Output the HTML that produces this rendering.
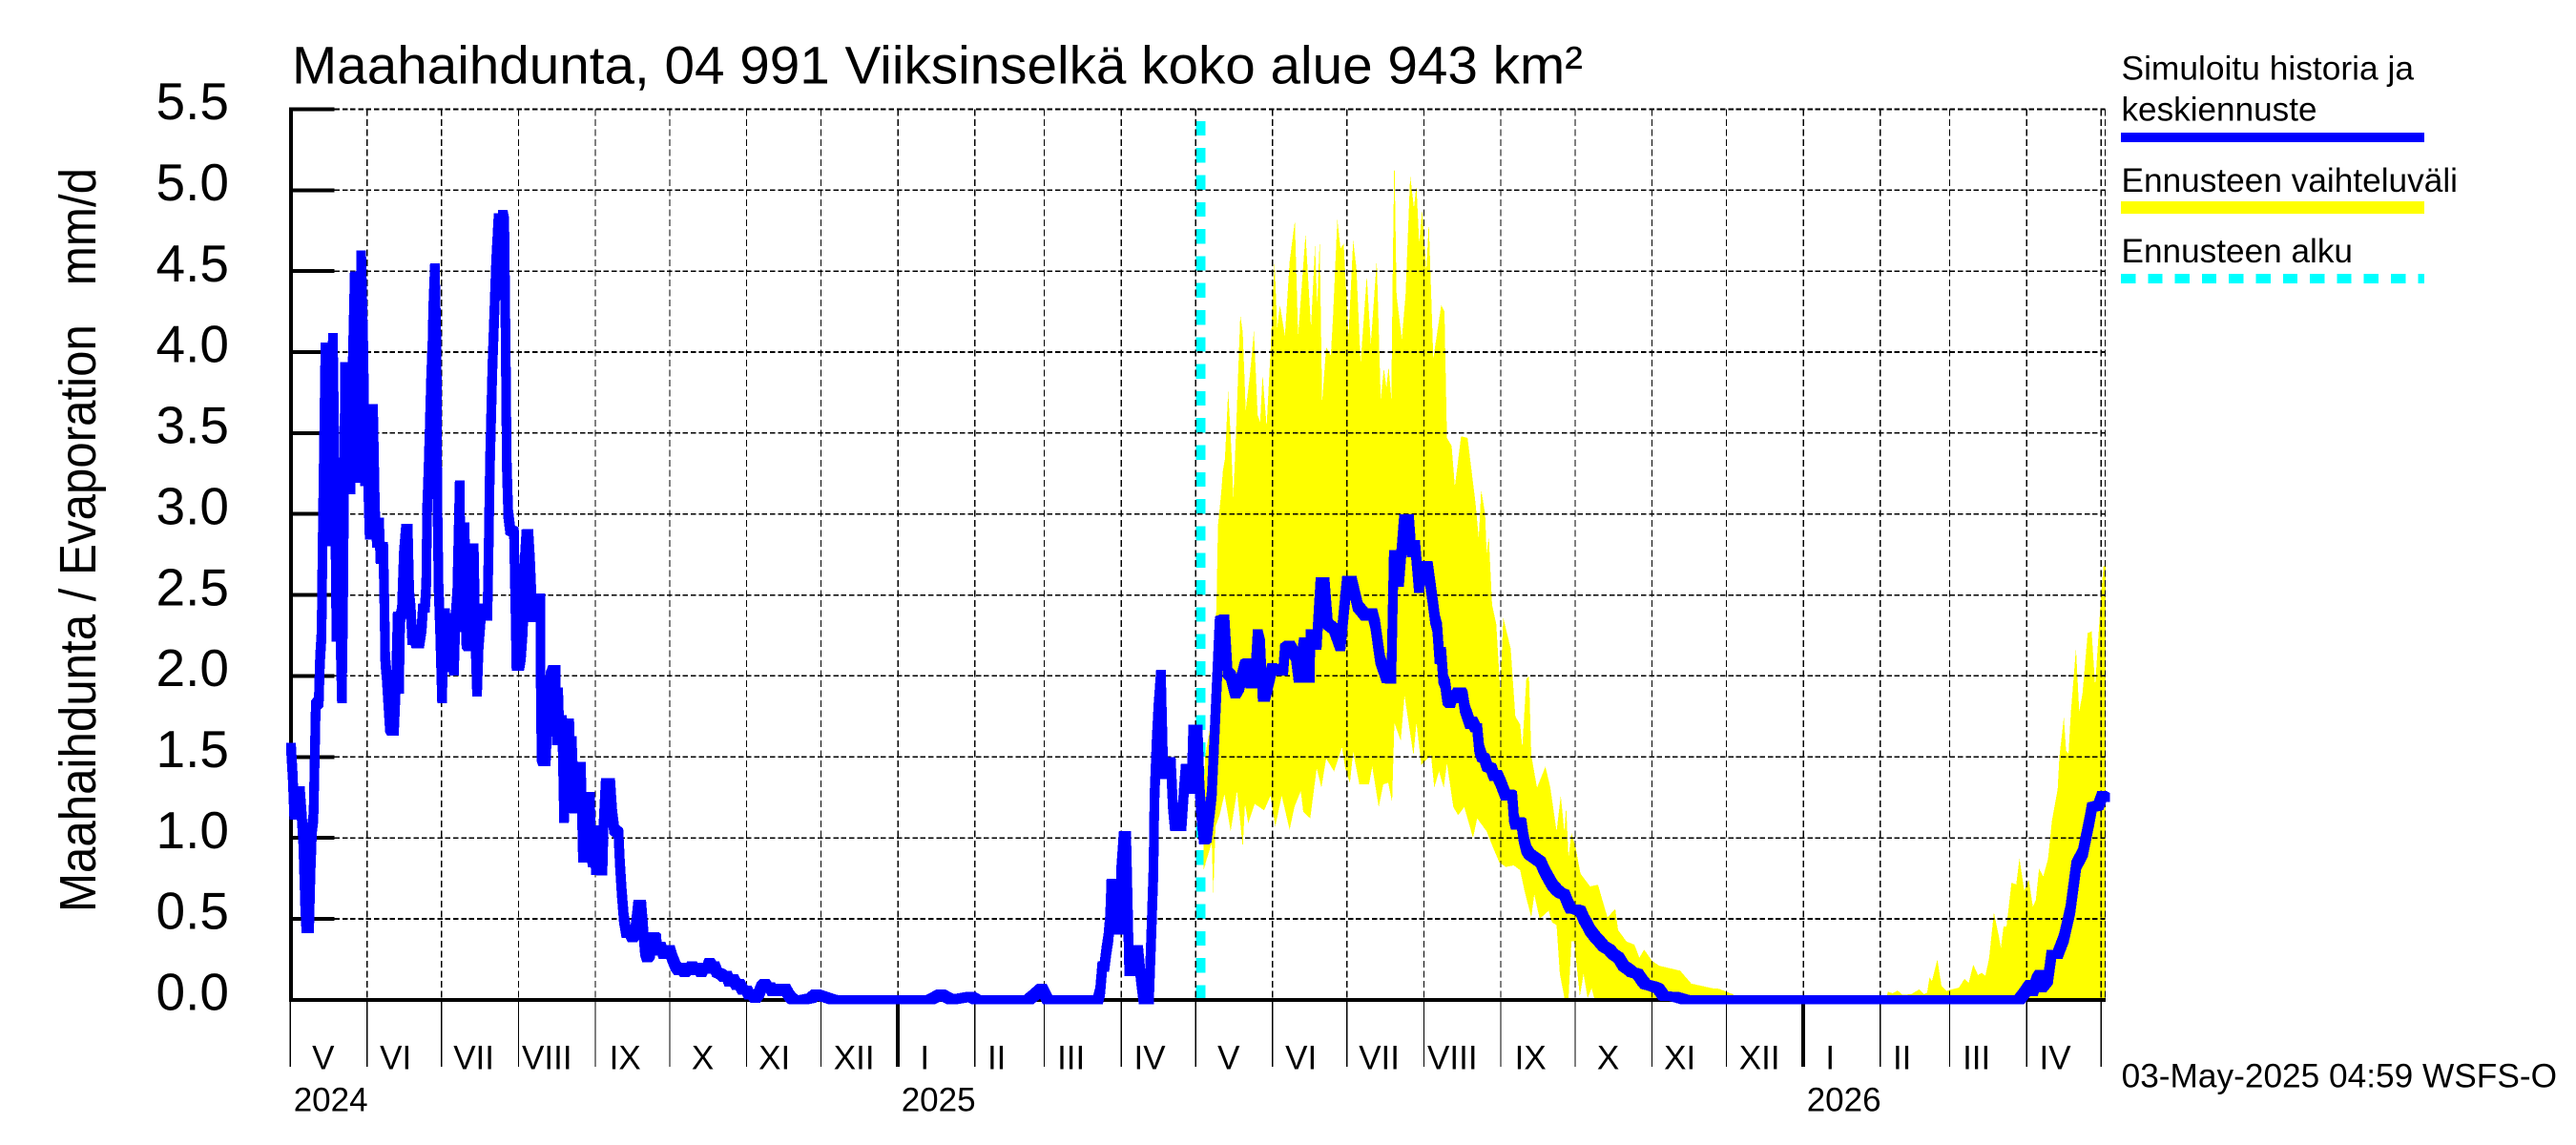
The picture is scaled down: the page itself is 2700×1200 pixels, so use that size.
<!DOCTYPE html>
<html lang="fi">
<head>
<meta charset="utf-8">
<title>Maahaihdunta, 04 991 Viiksinselkä koko alue 943 km²</title>
<style>
html,body{margin:0;padding:0;background:#fff;}
svg{display:block;}
text{font-family:"Liberation Sans",Arial,sans-serif;fill:#000;white-space:pre;}
</style>
</head>
<body>
<svg id="chart" xmlns="http://www.w3.org/2000/svg" width="2700" height="1200" viewBox="0 0 2700 1200">
  <rect x="0" y="0" width="2700" height="1200" fill="#ffffff"/>
  <g id="forecast-start-layer"></g>
  <g id="band-layer"></g>
  <g id="grid-layer"></g>
  <g id="axis-layer"></g>
  <g id="line-layer"></g>

  <text x="306" y="87.3" font-size="56" textLength="1353" lengthAdjust="spacingAndGlyphs">Maahaihdunta, 04 991 Viiksinselkä koko alue 943 km²</text>
  <text transform="translate(100 956) rotate(-90)" x="0" y="0" font-size="54" textLength="780" lengthAdjust="spacingAndGlyphs">Maahaihdunta / Evaporation   mm/d</text>

  <g>
    <text x="2223.5" y="83.4" font-size="35" textLength="306.5" lengthAdjust="spacingAndGlyphs">Simuloitu historia ja</text>
    <text x="2223.5" y="126.3" font-size="35" textLength="205" lengthAdjust="spacingAndGlyphs">keskiennuste</text>
    <rect x="2223" y="139" width="318" height="10" fill="#0000ff"/>
    <text x="2223.5" y="201" font-size="35" textLength="352.5" lengthAdjust="spacingAndGlyphs">Ennusteen vaihteluväli</text>
    <rect x="2223" y="211" width="318" height="13" fill="#ffff00"/>
    <text x="2223.5" y="274.8" font-size="35" textLength="242.5" lengthAdjust="spacingAndGlyphs">Ennusteen alku</text>
    <line x1="2223" y1="292" x2="2541" y2="292" stroke="#00ffff" stroke-width="10" stroke-dasharray="15.3 13" shape-rendering="crispEdges"/>
  </g>
  <text x="2223.6" y="1139.6" font-size="35" textLength="456.4" lengthAdjust="spacingAndGlyphs">03-May-2025 04:59 WSFS-O</text>
</svg>

<script>
// Values are [days since 1 May 2024, mm/d].
const meanHistory = [
[0.3,1.56],[1,1.38],[1.6,1.14],[2.4,1.2],[3.2,1.14],[3.9,1.29],[4.6,1.14],[5.2,1.0],[5.5,0.85],[6,0.6],
[6.5,0.44],[7,0.6],[7.6,0.44],[8.2,0.8],[8.8,1.06],[9.4,1.13],[9.9,1.5],[10.3,1.82],[11.5,1.84],[12,2.1],
[12.6,2.25],[13,2.75],[13.5,3.3],[14.2,4.03],[15,3.2],[15.9,2.83],[16.5,3.5],[17.2,4.09],[18,3.2],[18.6,2.24],
[19,2.6],[19.5,3.32],[20,2.4],[20.8,1.86],[21.3,2.4],[22.1,3.91],[23,3.4],[24.3,3.15],[25,3.8],[26,4.47],
[26.8,3.6],[27.3,3.22],[28,4.0],[28.6,4.6],[29.5,4.0],[30.2,3.2],[31,3.4],[32,2.87],[32.8,3.3],[33.4,3.65],
[34.2,3.0],[35,2.82],[35.8,2.95],[36.4,2.72],[37.5,2.8],[38,2.4],[38.3,2.1],[38.9,2.0],[39.5,1.85],[40.2,1.68],
[41,1.66],[41.8,1.66],[42.6,1.95],[43.3,2.37],[43.9,1.92],[44.3,2.35],[45,2.4],[45.8,2.75],[46.7,2.91],[47.4,2.91],
[48,2.5],[48.6,2.4],[49.2,2.22],[50,2.25],[50.8,2.2],[52,2.2],[53,2.3],[53.5,2.42],[54.3,2.42],[54.8,2.55],
[55.2,3.03],[55.7,3.24],[56.1,3.46],[56.8,3.84],[57.4,4.06],[57.6,4.25],[58.3,4.52],[59,4.0],[59.3,3.1],[59.8,2.55],
[60.4,2.3],[61.2,1.86],[61.8,2.2],[62.4,2.39],[63.2,2.1],[63.8,2.36],[64.6,2.05],[65.3,2.35],[66,2.03],[66.6,2.35],
[67.3,2.5],[68.3,3.18],[69,2.3],[69.6,2.7],[70.3,2.92],[71,2.2],[72,2.18],[72.7,2.78],[73.3,2.2],[74,2.79],
[74.7,2.2],[75.3,1.9],[76,2.2],[77,2.4],[77.9,2.42],[78.7,2.37],[79.5,2.37],[80,2.8],[80.5,3.3],[81.5,3.9],
[82.2,4.2],[83,4.55],[84,4.83],[84.8,4.35],[85.7,4.85],[86.3,4.8],[86.8,4.1],[87.3,3.3],[87.9,3.0],[88.7,2.9],
[90.2,2.89],[90.8,2.4],[91.2,2.06],[92.3,2.06],[93,2.12],[93.8,2.3],[94.5,2.7],[95.2,2.875],[96,2.88],[96.7,2.7],
[97.6,2.36],[98.8,2.36],[100,2.48],[100.8,2.48],[101,1.9],[101.3,1.5],[102,1.47],[103,1.47],[104,1.85],[105,2.0],
[106,2.04],[107,2.04],[107.4,1.6],[108,1.9],[108.6,1.6],[109.6,1.73],[110.4,1.12],[111,1.3],[111.6,1.7],[112.5,1.71],
[113,1.25],[113.5,1.6],[114.5,1.18],[115,1.3],[115.6,1.2],[116.3,1.44],[117.2,1.44],[118,0.875],[118.6,1.1],[119.2,0.875],
[119.9,1.25],[120.8,1.255],[121.4,0.9],[122,0.845],[122.6,1.05],[123.2,0.8],[124,1.0],[124.6,0.8],[125.9,0.795],[126.4,1.1],
[127.2,1.34],[129,1.34],[129.8,1.15],[130.6,1.05],[132.3,1.03],[132.9,0.85],[133.6,0.67],[134.5,0.5],[135.5,0.41],[136.5,0.43],
[138,0.385],[139,0.41],[139.8,0.52],[140.3,0.59],[141.5,0.59],[142.2,0.45],[143,0.3],[143.9,0.26],[145,0.28],[145.5,0.37],
[146.5,0.39],[147.5,0.38],[148,0.3],[149.3,0.33],[150.5,0.28],[152,0.3],[153,0.31],[154,0.26],[155.3,0.21],[156.7,0.18],
[157.8,0.2],[159,0.17],[160,0.19],[161,0.18],[162,0.21],[163.2,0.18],[164.3,0.2],[165.7,0.17],[166.8,0.2],[168,0.19],
[169,0.23],[170.2,0.2],[171,0.21],[172,0.17],[173.5,0.16],[175,0.14],[176,0.15],[177,0.11],[178.5,0.13],[180,0.09],
[181,0.1],[182.5,0.06],[184,0.06],[185,0.03],[186.5,0.03],[187.5,0.01],[189,0.04],[190,0.08],[191.3,0.1],[192.5,0.07],
[193.5,0.08],[194.5,0.05],[196,0.07],[198,0.05],[199.5,0.07],[201,0.03],[202,0.01],[203,0],[206.7,0],[210,0.01],
[212,0.035],[216,0.015],[219,0],[258,0],[262.3,0.034],[266.7,0],[274.4,0.02],[276.6,0],[297.6,0],[300,0.03],
[303,0.07],[305.3,0],[325.6,0],[326.5,0.05],[327.4,0.21],[328.2,0.2],[329,0.3],[329.8,0.38],[330.5,0.5],[331,0.72],
[332,0.72],[332.8,0.43],[333.5,0.7],[334.5,0.43],[335,0.8],[336,1.015],[337,1.015],[337.6,0.6],[338.2,0.175],[339,0.3],
[339.8,0.175],[340.5,0.3],[341.8,0.31],[342.8,0.15],[344,0],[346.2,0],[347.2,0.43],[348,0.8],[348.4,1.24],[349.3,1.6],
[350,1.8],[351,2.01],[351.8,1.5],[352.4,1.39],[353.7,1.42],[355,1.47],[355.8,1.2],[356.6,1.07],[359.3,1.07],[360.3,1.3],
[361,1.43],[362.5,1.43],[363.3,1.3],[364,1.67],[365,1.67],[365.8,1.67],[366.6,1.3],[367.5,1.1]
];
const meanForecast = [
[368.3,0.987],[369.5,1.0],[371.5,1.27],[372.8,1.7],[374.7,2.34],[376.6,2.35],[377.9,2.02],[379.2,2.0],[381,1.89],[382.5,1.93],
[384.9,2.07],[386,2.08],[387,1.95],[388.8,1.95],[390,2.26],[391,2.2],[392,1.87],[393,1.87],[395.8,2.05],[397.7,2.03],
[400.3,2.03],[401,2.17],[402.9,2.19],[405.4,2.12],[406.5,1.985],[408.6,2.21],[409.5,1.985],[411,1.985],[411.3,2.26],[413.8,2.19],
[415.3,2.58],[417,2.58],[418.3,2.32],[420.8,2.29],[423.4,2.18],[426,2.59],[427.9,2.59],[430.4,2.43],[433.6,2.37],[436.2,2.39],
[437.4,2.32],[439.4,2.1],[442,1.985],[443.9,1.98],[444.9,2.75],[445.8,2.75],[447,2.58],[449,2.97],[451,2.97],[452,2.76],
[453.5,2.81],[455,2.54],[456.5,2.68],[458,2.68],[458.6,2.68],[460.5,2.47],[461.5,2.35],[462.4,2.3],[463.3,2.1],[464,2.15],
[464.8,1.98],[465.6,1.95],[466.5,1.85],[467.6,1.83],[468.5,1.88],[469.5,1.86],[470.8,1.9],[472,1.9],[472.7,1.88],[473.5,1.8],
[474.6,1.75],[475.7,1.7],[476.5,1.72],[477.8,1.68],[478.5,1.68],[479.3,1.55],[480.4,1.5],[481.5,1.49],[482.5,1.44],[484.2,1.43],
[485.3,1.38],[486.5,1.39],[488,1.34],[489,1.3],[490,1.26],[491.5,1.27],[492.6,1.26],[493.3,1.12],[494,1.08],[495.5,1.1],
[496.4,1.09],[497.2,1.0],[498.3,0.93],[499.5,0.9],[500.9,0.885],[502.3,0.87],[504.1,0.85],[505.5,0.8],[507.3,0.75],[508.8,0.71],
[510.5,0.68],[512,0.66],[513.7,0.65],[515,0.6],[516.3,0.56],[518,0.56],[520.1,0.55],[521.5,0.5],[523,0.46],[524,0.43],
[526,0.39],[527.8,0.36],[529.5,0.33],[531.7,0.31],[533.5,0.28],[535.5,0.26],[537.5,0.21],[539.4,0.19],[541,0.17],[543.2,0.16],
[545,0.12],[546.4,0.095],[549,0.085],[551.5,0.07],[553.7,0.023],[558,0.02],[562.5,0],[697,0],[699,0.04],[701.5,0.095],
[702.5,0.05],[704.1,0.128],[705.4,0.157],[706,0.075],[708.6,0.124],[710,0.28],[712.5,0.28],[715,0.38],[717.6,0.555],[720,0.83],
[722.7,0.91],[725.3,1.105],[726.3,1.19],[729,1.2],[730.4,1.26],[731.6,1.25]
];
const bandUpper = [
[368.2,1.3],[368.9,1.51],[370.8,1.68],[373.4,2.42],[374,2.93],[375.3,3.13],[376,3.27],[376.8,3.34],[378.1,3.76],[379.4,3.4],
[380.2,3.1],[381.2,3.47],[383,4.23],[384,4.12],[385.2,3.64],[386.8,3.85],[388.5,4.13],[390,3.61],[391,3.57],[392,3.86],
[393.6,3.54],[395.2,4.01],[396.8,4.56],[397.9,4.15],[399,4.29],[401,4.1],[402.9,4.56],[405,4.81],[406.3,4.1],[409.3,4.73],
[411.5,4.15],[413.1,4.66],[414,4.29],[415,4.69],[416,3.69],[417.6,4.03],[419.5,3.98],[420.4,4.22],[422.1,4.82],[423.4,4.64],
[424.7,4.67],[426.6,4.1],[428.5,4.69],[429.8,4.52],[431.5,3.93],[434,4.47],[435.6,4.05],[438,4.57],[439.6,3.71],[440.9,3.9],
[441.9,3.78],[442.8,3.91],[443.9,3.71],[444.5,4.56],[445.1,5.22],[446,4.35],[448.1,4.08],[449.6,4.35],[451.5,5.09],[453,4.89],
[454,5.03],[455.1,4.67],[456.3,4.88],[458,4.5],[459,4.8],[460.8,3.96],[464,4.29],[465.3,4.25],[466.3,3.47],[468.2,3.42],
[469.5,3.17],[472,3.48],[474.6,3.47],[477.8,3.07],[479.1,2.85],[480.1,3.15],[481.7,3.0],[482.3,2.76],[483.2,2.86],[484.5,2.44],
[486.2,2.32],[487.8,1.9],[489,2.36],[492,2.17],[493.9,1.75],[495.8,1.7],[496.7,1.56],[498.3,1.98],[499.4,2.0],[500.3,1.51],
[502.6,1.31],[506,1.44],[508,1.31],[510.5,1.04],[512.2,1.26],[513.6,1.04],[514.4,1.19],[515.3,0.88],[516.5,1.03],[518.2,0.94],
[520.1,0.78],[524,0.7],[527.2,0.71],[531,0.51],[534.2,0.56],[535.3,0.43],[538.7,0.36],[541.9,0.34],[543.9,0.26],[545.8,0.31],
[549,0.24],[552,0.21],[560.3,0.18],[564.8,0.1],[573.6,0.07],[576,0.068],[581.6,0.034],[583,0],[643.5,0],[644,0.05],
[646,0.04],[648,0.057],[650,0.03],[653.5,0.035],[656.7,0.064],[658.6,0.035],[659.9,0.045],[660.9,0.14],[661.8,0.115],[664,0.25],
[665.7,0.085],[667.6,0.055],[671.4,0.07],[672.7,0.075],[675,0.13],[676.6,0.104],[678.5,0.216],[680.4,0.153],[682,0.167],[683.4,0.147],
[684.9,0.26],[686.8,0.54],[688.7,0.4],[689.6,0.32],[690.7,0.454],[691.9,0.454],[693.9,0.722],[695.8,0.713],[697.1,0.874],[699,0.674],
[700.9,0.742],[702.5,0.575],[703.7,0.615],[705,0.81],[706.7,0.762],[708.6,0.87],[710.2,1.105],[712.5,1.3],[713.2,1.5],[715,1.745],
[715.9,1.54],[716.9,1.52],[717.8,1.77],[719.9,2.17],[721.2,1.78],[722.5,1.89],[724.6,2.265],[726.2,2.275],[727.6,1.94],[729.1,2.285],
[730,2.5],[731,2.68],[731.8,2.68]
];
const bandLower = [
[368.2,0.8],[369.5,0.87],[371.5,0.97],[372.1,0.65],[373,1.07],[374.7,1.14],[376.6,1.27],[379.1,1.04],[381.7,1.29],[384,0.94],
[384.9,1.21],[386.2,1.09],[388.8,1.21],[392.6,1.17],[395.2,1.26],[397.1,1.07],[399.7,1.26],[402.9,1.05],[404.8,1.19],[407.4,1.29],
[408.4,1.16],[411.2,1.12],[413.8,1.43],[415.7,1.31],[417.6,1.49],[420.8,1.41],[424,1.56],[425.3,1.43],[427.2,1.34],[428.5,1.53],
[431,1.33],[434.9,1.33],[436.2,1.44],[438.8,1.19],[440.6,1.33],[442.6,1.34],[444.2,1.22],[445.1,1.71],[447.7,1.6],[449.2,1.88],
[452.8,1.51],[454,1.71],[456,1.45],[459.9,1.51],[461.2,1.31],[463.1,1.41],[465,1.31],[466.3,1.46],[468.9,1.19],[470.8,1.14],
[473.3,1.19],[476.8,1.0],[478.5,1.12],[482.3,1.04],[484.9,0.94],[487.4,0.85],[490,0.82],[493.2,0.83],[495.8,0.8],[497.7,0.665],
[500.3,0.51],[501.5,0.65],[503.7,0.5],[507.3,0.55],[508.6,0.48],[510.5,0.46],[511.8,0.16],[513.7,0.01],[515.3,0.01],[516.5,0.36],
[517.6,0.36],[519.9,0.02],[521.4,0.16],[523,0.01],[524.6,0.07],[525.9,0],[731.8,0]
];
const yTickValues = [0, 0.5, 1, 1.5, 2, 2.5, 3, 3.5, 4, 4.5, 5, 5.5];
const yTickLabels = ["0.0","0.5","1.0","1.5","2.0","2.5","3.0","3.5","4.0","4.5","5.0","5.5"];
const monthLabels = ["V","VI","VII","VIII","IX","X","XI","XII","I","II","III","IV","V","VI","VII","VIII","IX","X","XI","XII","I","II","III","IV"];
const monthLengths = [31,30,31,31,30,31,30,31,31,28,31,30,31,30,31,31,30,31,30,31,31,28,31,30];
const yearLabels = ["2024","2025","2026"];
const yearStartDays = [0, 245, 610];
const forecastStartDay = 367;

const NS = 'http://www.w3.org/2000/svg';
const X0 = 304.2, PX_PER_DAY = 2.6, Y0 = 1047.8, PX_PER_UNIT = 169.7;
const PLOT_RIGHT = 2206.5, PLOT_TOP = y(5.5), TICK_BOTTOM = 1118;
function x(day){ return X0 + day * PX_PER_DAY; }
function y(value){ return Y0 - value * PX_PER_UNIT; }
function make(tag, parent){
  const el = document.createElementNS(NS, tag);
  parent.appendChild(el);
  return el;
}
const monthLabelCenterDay = {V:13.3,VI:11.5,VII:13,VIII:11.5,IX:12,X:13.3,XI:11.2,XII:13.3,I:10.8,II:8.8,III:10.8,IV:11.5};

// forecast start marker
const startLayer = document.getElementById('forecast-start-layer');
const startLine = make('line', startLayer);


startLine.setAttribute('x1', x(forecastStartDay));
startLine.setAttribute('x2', x(forecastStartDay));
startLine.setAttribute('y1', Y0);
startLine.setAttribute('y2', 127);
startLine.setAttribute('stroke', '#00ffff');
startLine.setAttribute('stroke-width', 10);
startLine.setAttribute('stroke-dasharray', '15.3 13');
startLine.setAttribute('shape-rendering', 'crispEdges');

// forecast range band
const bandLayer = document.getElementById('band-layer');
const band = make('polygon', bandLayer);


band.setAttribute('points', bandUpper.concat(bandLower.slice().reverse()).map(function(p){
  return x(p[0]).toFixed(1) + ',' + y(p[1]).toFixed(1);
}).join(' '));
band.setAttribute('fill', '#ffff00');
band.setAttribute('shape-rendering', 'crispEdges');

// grid
const gridLayer = document.getElementById('grid-layer');
yTickValues.forEach(function(v){
  const g = make('line', gridLayer);
  
  
  g.setAttribute('x1', 350.5);
  g.setAttribute('x2', PLOT_RIGHT);
  g.setAttribute('y1', y(v));
  g.setAttribute('y2', y(v));
  g.setAttribute('stroke', '#000');
  g.setAttribute('stroke-width', 1.6);
  g.setAttribute('stroke-dasharray', '5.5 2.8');
  g.setAttribute('shape-rendering', 'crispEdges');
});

// month boundaries, ticks and labels
const axisLayer = document.getElementById('axis-layer');
let monthStart = 0;
const monthStarts = [];
monthLengths.forEach(function(len){ monthStarts.push(monthStart); monthStart += len; });
monthStarts.push(monthStart);
monthStarts.forEach(function(d, i){
  if (i > 0) {
    const g = make('line', gridLayer);
    
    
    g.setAttribute('x1', x(d));
    g.setAttribute('x2', x(d));
    g.setAttribute('y1', PLOT_TOP);
    g.setAttribute('y2', Y0);
    g.setAttribute('stroke', '#000');
    g.setAttribute('stroke-width', 1.2);
    g.setAttribute('stroke-dasharray', '7 3.5');
    g.setAttribute('shape-rendering', 'crispEdges');
  }
  const isYear = yearStartDays.indexOf(d) > 0;
  const t = make('line', axisLayer);
  
  
  t.setAttribute('x1', x(d));
  t.setAttribute('x2', x(d));
  t.setAttribute('y1', Y0);
  t.setAttribute('y2', TICK_BOTTOM);
  t.setAttribute('stroke', '#000');
  t.setAttribute('stroke-width', isYear ? 4 : 1.2);
  t.setAttribute('shape-rendering', 'crispEdges');
  if (i < monthLabels.length) {
    const lab = make('text', axisLayer);
    
    
    lab.setAttribute('x', x(d + monthLabelCenterDay[monthLabels[i]]));
    lab.setAttribute('y', 1120.5);
    lab.setAttribute('font-size', 35);
    lab.setAttribute('text-anchor', 'middle');
    lab.textContent = monthLabels[i];
  }
});
// dashed right border of the plot
const rightBorder = make('line', gridLayer);


rightBorder.setAttribute('x1', PLOT_RIGHT);
rightBorder.setAttribute('x2', PLOT_RIGHT);
rightBorder.setAttribute('y1', PLOT_TOP);
rightBorder.setAttribute('y2', Y0);
rightBorder.setAttribute('stroke', '#000');
rightBorder.setAttribute('stroke-width', 1.2);
rightBorder.setAttribute('stroke-dasharray', '7 3.5');
rightBorder.setAttribute('shape-rendering', 'crispEdges');

yearLabels.forEach(function(label, i){
  const yr = make('text', axisLayer);
  
  
  yr.setAttribute('x', x(yearStartDays[i]) + 3.5);
  yr.setAttribute('y', 1164.5);
  yr.setAttribute('font-size', 35);
  yr.textContent = label;
});

// axes
const yAxis = make('line', axisLayer);


yAxis.setAttribute('x1', 305);
yAxis.setAttribute('x2', 305);
yAxis.setAttribute('y1', PLOT_TOP - 2);
yAxis.setAttribute('y2', Y0 + 2);
yAxis.setAttribute('stroke', '#000');
yAxis.setAttribute('stroke-width', 4);
yAxis.setAttribute('shape-rendering', 'crispEdges');
const xAxis = make('line', axisLayer);


xAxis.setAttribute('x1', 303);
xAxis.setAttribute('x2', PLOT_RIGHT + 0.5);
xAxis.setAttribute('y1', Y0);
xAxis.setAttribute('y2', Y0);
xAxis.setAttribute('stroke', '#000');
xAxis.setAttribute('stroke-width', 4);
xAxis.setAttribute('shape-rendering', 'crispEdges');
yTickValues.forEach(function(v, i){
  const t = make('line', axisLayer);
  
  
  t.setAttribute('x1', 305);
  t.setAttribute('x2', 350.5);
  t.setAttribute('y1', y(v));
  t.setAttribute('y2', y(v));
  t.setAttribute('stroke', '#000');
  t.setAttribute('stroke-width', 4);
  t.setAttribute('shape-rendering', 'crispEdges');
  const lab = make('text', axisLayer);
  
  
  lab.setAttribute('x', 240);
  lab.setAttribute('y', y(v) + 10.7);
  lab.setAttribute('font-size', 55);
  lab.setAttribute('text-anchor', 'end');
  lab.textContent = yTickLabels[i];
});

// mean line, drawn with a square pen like the original plotter
const PEN_X = 5, PEN_Y = 4.8;
function penSegment(a, b){
  const x0 = x(a[0]), y0 = y(a[1]), x1 = x(b[0]), y1 = y(b[1]);
  const pts = y1 < y0
    ? [[x0-PEN_X,y0-PEN_Y],[x1-PEN_X,y1-PEN_Y],[x1+PEN_X,y1-PEN_Y],[x1+PEN_X,y1+PEN_Y],[x0+PEN_X,y0+PEN_Y],[x0-PEN_X,y0+PEN_Y]]
    : [[x0-PEN_X,y0-PEN_Y],[x0+PEN_X,y0-PEN_Y],[x1+PEN_X,y1-PEN_Y],[x1+PEN_X,y1+PEN_Y],[x1-PEN_X,y1+PEN_Y],[x0-PEN_X,y0+PEN_Y]];
  return 'M' + pts.map(function(p){ return p[0].toFixed(1) + ' ' + p[1].toFixed(1); }).join('L') + 'Z';
}
const lineLayer = document.getElementById('line-layer');
const meanSeries = meanHistory.concat(meanForecast);
let meanPath = '';
for (let i = 1; i < meanSeries.length; i++) {
  meanPath += penSegment(meanSeries[i-1], meanSeries[i]);
}
const meanLine = make('path', lineLayer);


meanLine.setAttribute('d', meanPath);
meanLine.setAttribute('fill', '#0000ff');
meanLine.setAttribute('fill-rule', 'nonzero');
meanLine.setAttribute('shape-rendering', 'crispEdges');
</script>
</body>
</html>
